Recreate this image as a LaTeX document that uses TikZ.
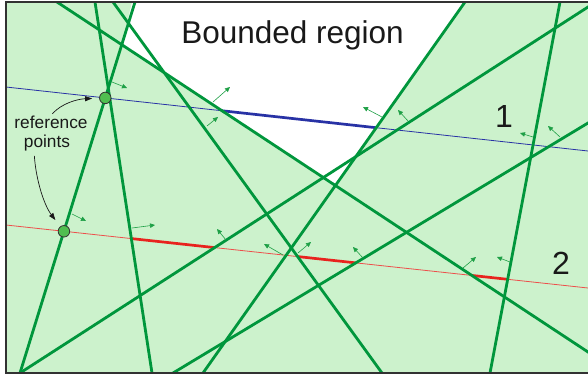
\documentclass[tikz,border=0pt]{standalone}
\usepackage{fontspec}
\setmainfont{Liberation Sans}
\usetikzlibrary{arrows.meta}
\definecolor{fillg}{RGB}{204,242,204}
\definecolor{lineg}{RGB}{0,150,60}
\definecolor{arrg}{RGB}{30,160,70}
\definecolor{blueln}{RGB}{40,50,165}
\definecolor{redln}{RGB}{232,35,30}
\definecolor{framec}{RGB}{50,50,50}
\definecolor{txtc}{RGB}{25,25,25}
\definecolor{ptfill}{RGB}{80,190,80}
\begin{document}
\begin{tikzpicture}[x=1pt,y=-1pt,
  halfline/.style={draw=lineg,line width=2.8pt,shorten <=-12pt,shorten >=-12pt},
  thinblue/.style={draw=blueln,line width=0.8pt,shorten <=-4pt,shorten >=-4pt},
  thinred/.style={draw=redln!80,line width=0.8pt,shorten <=-4pt,shorten >=-4pt},
  thickblue/.style={draw=blueln,line width=2.7pt},
  thickred/.style={draw=redln,line width=2.7pt},
  normalarr/.style={draw=arrg,line width=0.6pt,-{Triangle[length=5pt,width=4.5pt]}},
  callout/.style={draw=txtc,line width=0.7pt,-{Triangle[length=7pt,width=5pt]}},
  refpt/.style={circle,draw=black!80,fill=ptfill,line width=0.8pt,minimum size=11.5pt,inner sep=0pt},
  bigtxt/.style={text=txtc,font=\fontsize{31.5}{37}\selectfont},
  numtxt/.style={text=txtc,font=\fontsize{32}{38}\selectfont},
  smalltxt/.style={text=txtc,font=\fontsize{17.3}{20}\selectfont}]
\useasboundingbox (0,0) rectangle (588,375);
% line endpoints
\coordinate (a1) at (57,2);   \coordinate (a2) at (588,352);
\coordinate (b1) at (95,2);   \coordinate (b2) at (152,373);
\coordinate (c1) at (113,2);  \coordinate (c2) at (382,373);
\coordinate (d1) at (135,2);  \coordinate (d2) at (20,373);
\coordinate (e1) at (465,2);  \coordinate (e2) at (203,373);
\coordinate (f1) at (588,7);  \coordinate (f2) at (20,373);
\coordinate (g1) at (560,2);  \coordinate (g2) at (490,373);
\coordinate (h1) at (588,123);\coordinate (h2) at (173,373);
\coordinate (bl1) at (6,87);  \coordinate (bl2) at (588,151);
\coordinate (rl1) at (6,225); \coordinate (rl2) at (588,288);
\begin{scope}
\clip (6,2) rectangle (594,373);
\fill[fillg] (6,2) rectangle (594,373);
\fill[white] (135,-10) -- (intersection of d1--d2 and a1--a2)
  -- (intersection of a1--a2 and e1--e2) -- (473.5,-10) -- cycle;
% probe lines
\draw[thinblue] (bl1) -- (bl2);
\draw[thinred] (rl1) -- (rl2);
\draw[thickblue] (intersection of bl1--bl2 and a1--a2) -- (intersection of bl1--bl2 and e1--e2);
\draw[thickred] (intersection of rl1--rl2 and b1--b2) -- (intersection of rl1--rl2 and f1--f2);
\draw[thickred] (intersection of rl1--rl2 and c1--c2) -- (intersection of rl1--rl2 and h1--h2);
\draw[thickred] (intersection of rl1--rl2 and a1--a2) -- (intersection of rl1--rl2 and g1--g2);
% half-plane boundary lines
\foreach \l in {a,b,c,d,e,f,g,h} \draw[halfline] (\l1) -- (\l2);
% normal arrows (blue line)
\draw[normalarr] (112,82) -- (127,88);
\draw[normalarr] (213,102) -- (230,87);
\draw[normalarr] (207,126) -- (218,117);
\draw[normalarr] (382,117) -- (363,107);
\draw[normalarr] (408,121) -- (398,110);
\draw[normalarr] (533,137) -- (520,133);
\draw[normalarr] (560,137) -- (548,126);
% normal arrows (red line)
\draw[normalarr] (72,214) -- (86,221);
\draw[normalarr] (132,228) -- (155,225);
\draw[normalarr] (226,240) -- (217,229);
\draw[normalarr] (283,255) -- (264,244);
\draw[normalarr] (298,253) -- (311,242);
\draw[normalarr] (363,258) -- (353,247);
\draw[normalarr] (463,268) -- (476,257);
\draw[normalarr] (510,262) -- (497,257);
\end{scope}
% reference points
\node[refpt] (rp1) at (intersection of d1--d2 and bl1--bl2) {};
\node[refpt] (rp2) at (intersection of d1--d2 and rl1--rl2) {};
% texts
\node[bigtxt,anchor=base] (title) at (292.5,43) {Bounded region};
\node[numtxt,anchor=base] (one) at (504,127) {1};
\node[numtxt,anchor=base] (two) at (561,274) {2};
\node[smalltxt,anchor=base,inner sep=0pt] (reftxt) at (51,128) {reference};
\node[smalltxt,anchor=base,inner sep=0pt] (ptstxt) at (47,147) {points};
% callouts
\draw[callout,shorten <=2pt,shorten >=7pt] (reftxt.north) .. controls (62,103) and (78,99) .. (rp1);
\draw[callout,shorten <=5pt,shorten >=8pt] ([xshift=-13pt]ptstxt.south) .. controls (36,180) and (44,205) .. (rp2);
% frame
\draw[framec,line width=1.4pt] (594,2) -- (6,2) -- (6,373) -- (594,373);
\end{tikzpicture}
\end{document}
